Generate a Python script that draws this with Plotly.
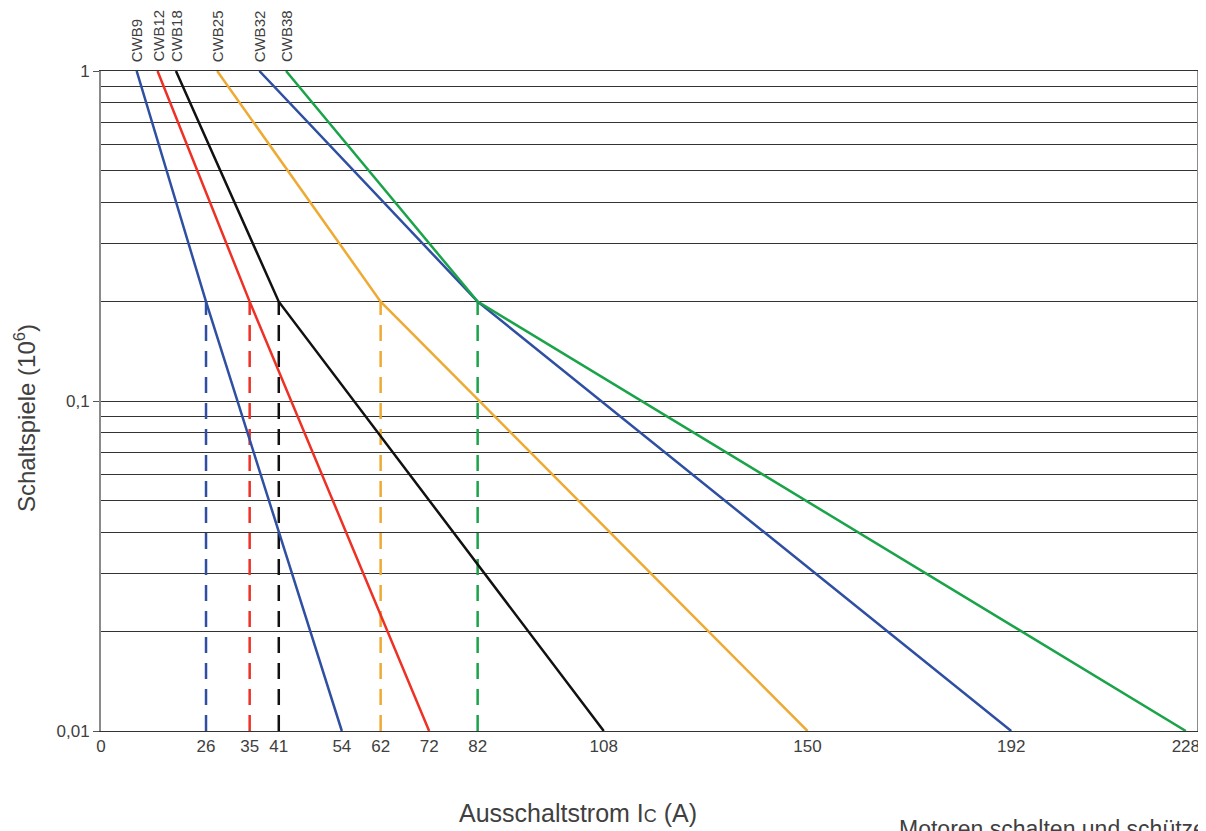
import plotly.graph_objects as go

# ---- data ----
models = ["CWB9", "CWB12", "CWB18", "CWB25", "CWB32", "CWB38"]
colors = ["#2f4fa2", "#ee3124", "#111111", "#eeaa33", "#2f4fa2", "#1ba34a"]
current_top = [11.7, 16.0, 19.8, 28.3, 37.0, 42.5]      # current at 1 x10^6 cycles
current_knee = [26, 35, 41, 62, 82, 82]                  # current at 0.2 x10^6 cycles
current_end = [54, 72, 108, 150, 192, 228]               # current at 0.01 x10^6 cycles
cycles_top = 1.0
cycles_knee = 0.2
cycles_end = 0.01

x_tick_vals = [4.35, 26, 35, 41, 54, 62, 72, 82, 108, 150, 192, 228]
x_tick_text = ["0", "26", "35", "41", "54", "62", "72", "82", "108", "150", "192", "228"]
x_range = [4.35, 230.3]
y_major = [0.01, 0.1, 1]
y_major_text = ["0,01", "0,1", "1"]
y_minor = [0.02, 0.03, 0.04, 0.05, 0.06, 0.07, 0.08, 0.09,
           0.2, 0.3, 0.4, 0.5, 0.6, 0.7, 0.8, 0.9]

FONT = "Liberation Sans"
TXT = "#404040"

fig = go.Figure()

# dashed verticals at knee currents
for i, m in enumerate(models):
    if m == "CWB32":
        continue
    fig.add_trace(go.Scatter(
        x=[current_knee[i], current_knee[i]], y=[cycles_end, cycles_knee],
        mode="lines", line=dict(color=colors[i], width=2.5, dash="16px,10px"),
        showlegend=False, hoverinfo="skip"))

# curves
for i, m in enumerate(models):
    fig.add_trace(go.Scatter(
        x=[current_top[i], current_knee[i], current_end[i]],
        y=[cycles_top, cycles_knee, cycles_end],
        mode="lines", line=dict(color=colors[i], width=2.5),
        name=m, showlegend=False))

# model labels at top
for i, m in enumerate(models):
    fig.add_annotation(
        x=current_top[i], y=1, xref="x", yref="paper",
        text=m, textangle=-90, showarrow=False,
        xanchor="center", yanchor="bottom", yshift=7,
        font=dict(family=FONT, size=15, color=TXT))

# axis titles (placed as in the reference)
fig.add_annotation(
    x=0.435, y=-0.124, xref="paper", yref="paper",
    text="Ausschaltstrom I<span style='font-size:18px'>C</span> (A)",
    showarrow=False, xanchor="center", yanchor="middle",
    font=dict(family=FONT, size=25, color=TXT))
fig.add_annotation(
    x=-0.0695, y=0.474, xref="paper", yref="paper",
    text="Schaltspiele (10<sup>6</sup>)", textangle=-90,
    showarrow=False, xanchor="center", yanchor="middle",
    font=dict(family=FONT, size=24, color=TXT))

# bottom cut-off caption
fig.add_annotation(
    x=0.726, y=-0.126, xref="paper", yref="paper", text="Motoren schalten und schützen",
    showarrow=False, xanchor="left", yanchor="top",
    font=dict(family=FONT, size=23, color=TXT))

# the page body adds an 8 px offset, so the figure is 8 px smaller
fig.update_layout(
    width=1198, height=823,
    margin=dict(l=93, r=9, t=63, b=100),
    paper_bgcolor="white", plot_bgcolor="white",
    font=dict(family=FONT, color=TXT),
    xaxis=dict(
        range=x_range, tickmode="array", tickvals=x_tick_vals, ticktext=x_tick_text,
        showgrid=False, zeroline=False, ticks="", automargin=False,
        showline=True, linecolor="#333333", linewidth=1, mirror=True,
        tickfont=dict(family=FONT, size=17, color=TXT),
    ),
    yaxis=dict(
        type="log", range=[-2, 0], tickmode="array", tickvals=y_major, ticktext=y_major_text,
        ticks="outside", ticklen=6, tickcolor="#555555", automargin=False,
        showgrid=True, gridcolor="#333333", gridwidth=1,
        minor=dict(tickmode="array", tickvals=y_minor, showgrid=True,
                   gridcolor="#333333", gridwidth=1, ticks=""),
        showline=True, linecolor="#8a8a8a", linewidth=2, mirror=True, zeroline=False,
        tickfont=dict(family=FONT, size=17, color=TXT),
    ),
)

fig.write_html("out.html")
